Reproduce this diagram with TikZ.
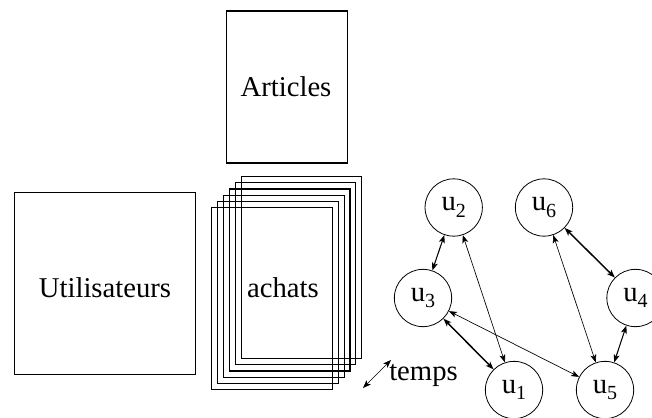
\documentclass[tikz,border=0pt]{standalone}
\usepackage{fontspec}
\setmainfont{Liberation Serif}
\usetikzlibrary{arrows.meta}
\newcommand\usub[1]{u\raisebox{-0.22em}{\fontsize{15}{15}\selectfont #1}}
\begin{document}
\begin{tikzpicture}[x=0.75pt,y=-0.75pt,
  boxstyle/.style={draw,line width=0.8pt,inner sep=0pt},
  lbl/.style={font=\fontsize{21.5}{25}\selectfont,inner sep=0pt,anchor=base},
  unode/.style={draw,circle,line width=0.6pt,minimum size=43pt,inner sep=0pt,font=\fontsize{21.5}{25}\selectfont},
  link/.style={>={Stealth[length=6pt,width=4.5pt,inset=1.5pt]},<->},
  thinlink/.style={link,line width=0.5pt},
  midlink/.style={link,line width=0.8pt},
  thicklink/.style={link,line width=1.1pt}]
\useasboundingbox (0,0) rectangle (652,417);
% Articles
\node[boxstyle,minimum width=91pt,minimum height=114pt] (art) at (287,87) {};
\node[lbl] (artl) at (286,97) {Articles};
% Utilisateurs
\node[boxstyle,minimum width=136pt,minimum height=136pt] (uti) at (105,283.5) {};
\node[lbl] (util) at (105,297) {Utilisateurs};
% achats stack
\foreach \i in {0,...,5}{
  \node[boxstyle,minimum width=90.4pt,minimum height=136.5pt] (a\i) at ({272+5.9*\i},{298.3-6.1*\i}) {};
}
\node[lbl] (achl) at (283,297) {achats};
% temps
\coordinate (t1) at (363,388);
\coordinate (t2) at (391,360);
\draw[thinlink] (t1) -- (t2);
\node[lbl,anchor=base west] (temps) at (389,380) {temps};
% users
\node[unode] (u1) at (514,390) {\usub{1}};
\node[unode] (u2) at (453.7,207.5) {\usub{2}};
\node[unode] (u3) at (423,298) {\usub{3}};
\node[unode] (u4) at (635.5,298) {\usub{4}};
\node[unode] (u5) at (605,390) {\usub{5}};
\node[unode] (u6) at (544,207.5) {\usub{6}};
\draw[midlink] (u2) -- (u3);
\draw[thinlink] (u2) -- (u1);
\draw[thicklink] (u3) -- (u1);
\draw[thinlink] (u3) -- (u5);
\draw[thinlink] (u6) -- (u5);
\draw[thicklink] (u6) -- (u4);
\draw[midlink] (u4) -- (u5);
\end{tikzpicture}
\end{document}
